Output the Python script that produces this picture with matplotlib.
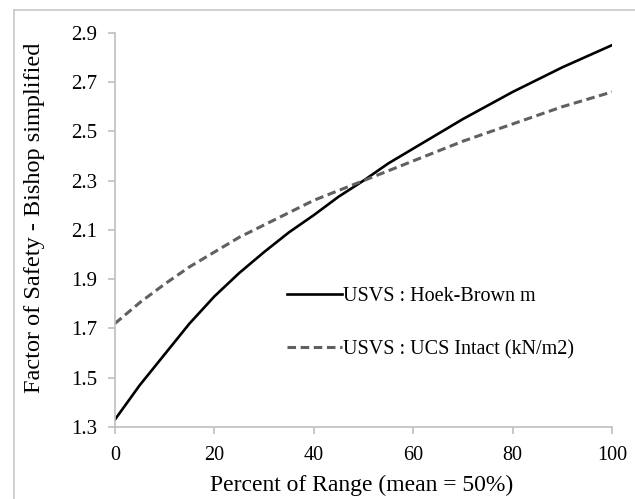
import matplotlib.pyplot as plt
from matplotlib.lines import Line2D

plt.rcParams['font.family'] = ['Liberation Serif', 'DejaVu Serif']

percent = [0, 5, 10, 15, 20, 25, 30, 35, 40, 45, 50, 55, 60, 65, 70, 75, 80, 85, 90, 95, 100]
hoek_brown = [1.33, 1.47, 1.595, 1.72, 1.83, 1.925, 2.01, 2.09, 2.16, 2.235, 2.30,
              2.37, 2.43, 2.49, 2.55, 2.605, 2.66, 2.71, 2.76, 2.805, 2.85]
ucs_intact = [1.72, 1.805, 1.88, 1.95, 2.01, 2.07, 2.12, 2.17, 2.22, 2.26, 2.30,
              2.34, 2.38, 2.42, 2.46, 2.495, 2.53, 2.565, 2.60, 2.63, 2.66]

fig = plt.figure(figsize=(6.35, 4.99), dpi=100)
ax = fig.add_axes([0.181, 0.1443, 0.783, 0.79])

ax.plot(percent, hoek_brown, color='black', lw=1.9, label='USVS : Hoek-Brown m')
ax.plot(percent, ucs_intact, color='#606060', lw=2.2, dashes=(2.8, 1.5),
        label='USVS : UCS Intact (kN/m2)')

ax.set_xlim(0, 100)
ax.set_ylim(1.3, 2.9)
ax.set_xticks(range(0, 101, 20))
ax.set_yticks([1.3, 1.5, 1.7, 1.9, 2.1, 2.3, 2.5, 2.7, 2.9])
ax.set_yticklabels(['1.3', '1.5', '1.7', '1.9', '2.1', '2.3', '2.5', '2.7', '2.9'])

for s in ['top', 'right']:
    ax.spines[s].set_visible(False)
for s in ['left', 'bottom']:
    ax.spines[s].set_color('#bfbfbf')
    ax.spines[s].set_linewidth(1.2)
ax.tick_params(direction='out', length=5, width=1.2, color='#bfbfbf',
               labelsize=14.5)
ax.tick_params(axis='y', labelsize=15, pad=8)
ax.tick_params(axis='x', pad=9)

ax.set_xlabel('Percent of Range (mean = 50%)', fontsize=17)
ax.xaxis.set_label_coords(0.497, -0.122)
ax.set_ylabel('Factor of Safety - Bishop simplified', fontsize=17.5)
ax.yaxis.set_label_coords(-0.14, 0.53)

ax.legend(loc='center left', bbox_to_anchor=(0.346, 0.264), frameon=False,
          fontsize=14.5, handlelength=2.75, handletextpad=0.05,
          labelspacing=1.7, borderpad=0, borderaxespad=0)

# outer border of the picture
fig.add_artist(Line2D([14 / 635, 14 / 635], [0, 1 - 10 / 499], color='#c8c8c8', lw=1.2))
fig.add_artist(Line2D([14 / 635, 1], [1 - 10 / 499, 1 - 10 / 499], color='#c8c8c8', lw=1.2))

fig.savefig('out.png', dpi=100)
